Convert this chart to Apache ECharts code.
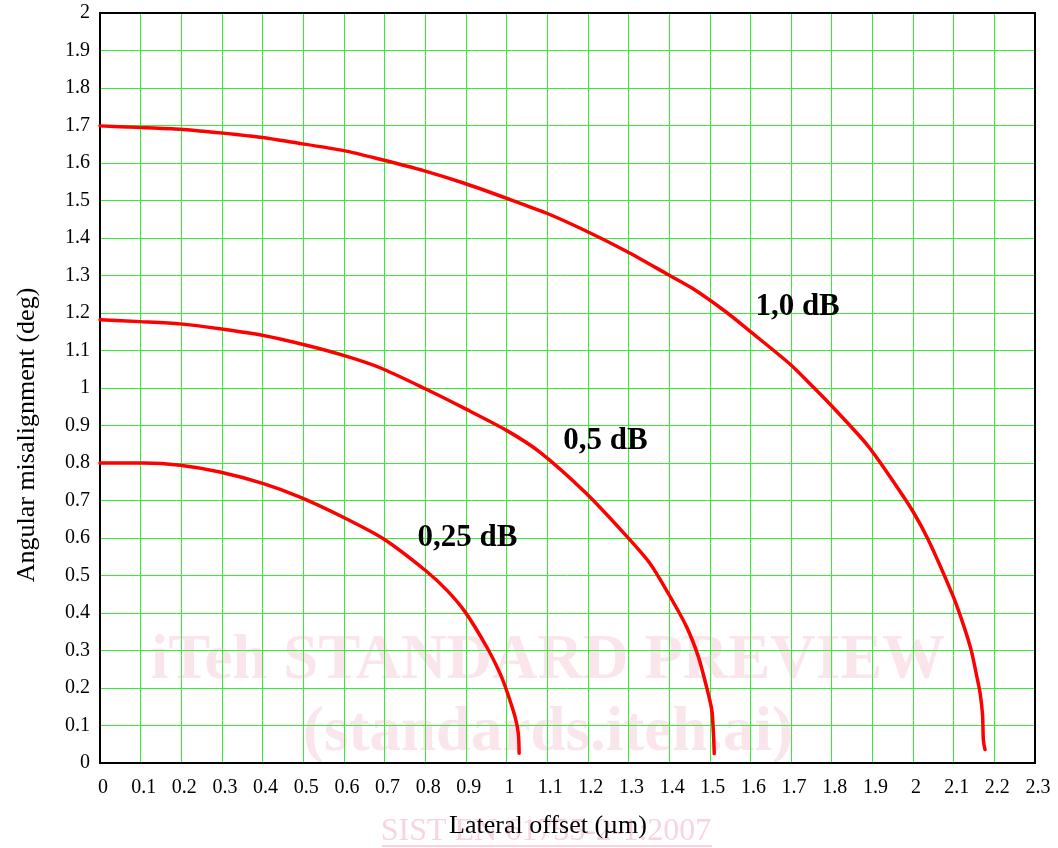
<!DOCTYPE html>
<html>
<head>
<meta charset="utf-8">
<script src="https://cdn.jsdelivr.net/npm/echarts@6/dist/echarts.min.js"></script>
<style>
html,body{margin:0;padding:0;background:#fff;}
#chart{width:1058px;height:848px;}
</style>
</head>
<body>
<div id="chart"></div>
<script>
// ---- data ----
var xTicks = { min: 0, max: 2.3, step: 0.1 };
var yTicks = { min: 0, max: 2, step: 0.1 };

var curveNames = ['0,25 dB', '0,5 dB', '1,0 dB'];

var offset025 = [0, 0.107, 0.197, 0.295, 0.402, 0.492, 0.597, 0.697, 0.80, 0.853, 0.898, 0.951, 0.984, 1.0, 1.021, 1.029, 1.031];
var angle025  = [0.80, 0.80, 0.794, 0.776, 0.745, 0.709, 0.656, 0.598, 0.514, 0.461, 0.403, 0.310, 0.239, 0.194, 0.123, 0.079, 0.026];

var offset05 = [0, 0.098, 0.197, 0.295, 0.402, 0.500, 0.599, 0.689, 0.80, 0.898, 1.0, 1.082, 1.197, 1.297, 1.353, 1.398, 1.443, 1.472, 1.492, 1.505, 1.509, 1.511];
var angle05  = [1.182, 1.177, 1.171, 1.158, 1.140, 1.116, 1.087, 1.054, 0.998, 0.945, 0.887, 0.829, 0.718, 0.603, 0.532, 0.452, 0.363, 0.283, 0.203, 0.141, 0.079, 0.025];

var offset10 = [0, 0.09, 0.197, 0.26, 0.31, 0.36, 0.40, 0.47, 0.60, 0.689, 0.798, 0.896, 1.0, 1.099, 1.197, 1.296, 1.398, 1.46, 1.541, 1.597, 1.697, 1.755, 1.80, 1.87, 1.896, 1.943, 1.998, 2.038, 2.097, 2.12, 2.143, 2.157, 2.165, 2.171, 2.173, 2.177];
var angle10  = [1.699, 1.695, 1.690, 1.684, 1.679, 1.673, 1.668, 1.656, 1.633, 1.610, 1.579, 1.546, 1.506, 1.466, 1.418, 1.364, 1.302, 1.264, 1.202, 1.153, 1.064, 1.002, 0.952, 0.870, 0.836, 0.764, 0.674, 0.594, 0.449, 0.381, 0.301, 0.230, 0.186, 0.128, 0.061, 0.036];

// label anchor positions in data units
var labelOffset = [0.904, 1.2435, 1.716];
var labelAngle  = [0.6005, 0.8575, 1.216];

var xName = 'Lateral offset (\u00b5m)';
var yName = 'Angular misalignment (deg)';
var watermark1 = 'iTeh STANDARD PREVIEW';
var watermark2 = '(standards.iteh.ai)';
var watermark3 = 'SIST EN 61755-2-1:2007';

// ---- build ----
function zip(xs, ys) { return xs.map(function (x, i) { return [x, ys[i]]; }); }
var curves = [zip(offset025, angle025), zip(offset05, angle05), zip(offset10, angle10)];
var serif = "'Liberation Serif', 'Times New Roman', serif";
function fmt(v) { return String(Number(v.toFixed(1))); }

var series = curves.map(function (d, i) {
  return {
    name: curveNames[i], type: 'line', data: d, showSymbol: false, symbol: 'none',
    smooth: 0.25, z: 5,
    lineStyle: { color: '#ff0000', width: 3.5, cap: 'round', join: 'round' }
  };
});
series.push({
  type: 'scatter', symbolSize: 0, z: 6, silent: true,
  itemStyle: { opacity: 1, color: 'transparent' },
  data: curveNames.map(function (n, i) { return { value: [labelOffset[i], labelAngle[i]], name: n }; }),
  label: {
    show: true, position: 'inside', formatter: '{b}', opacity: 1,
    fontFamily: serif, fontWeight: 'bold', fontSize: 31, color: '#000000'
  },
  emphasis: { disabled: true }
});

var chart = echarts.init(document.getElementById('chart'), null, { renderer: 'canvas' });
chart.setOption({
  backgroundColor: '#ffffff',
  animation: false,
  grid: { left: 100, right: 23, top: 13, bottom: 85, show: true, borderColor: '#000', borderWidth: 2, backgroundColor: 'transparent', z: 3 },
  xAxis: {
    type: 'value', min: xTicks.min, max: xTicks.max, interval: xTicks.step,
    name: xName, nameLocation: 'middle', nameGap: 50,
    nameTextStyle: { fontFamily: serif, fontSize: 26, color: '#000', padding: [0, 39, 0, 0] },
    axisLine: { show: true, lineStyle: { color: '#000', width: 2 } },
    axisTick: { show: false },
    axisLabel: { fontFamily: serif, fontSize: 20, color: '#000', margin: 15, formatter: fmt, padding: [0, 0, 0, 6] },
    splitLine: { show: true, lineStyle: { color: '#33ee33', width: 1 } }
  },
  yAxis: {
    type: 'value', min: yTicks.min, max: yTicks.max, interval: yTicks.step,
    name: yName, nameLocation: 'middle', nameGap: 60, nameRotate: 90,
    nameTextStyle: { fontFamily: serif, fontSize: 26, color: '#000', padding: [0, 94, 0, 0] },
    axisLine: { show: true, lineStyle: { color: '#000', width: 2 } },
    axisTick: { show: false },
    axisLabel: { fontFamily: serif, fontSize: 20, color: '#000', margin: 10, formatter: fmt },
    splitLine: { show: true, lineStyle: { color: '#33ee33', width: 1 } }
  },
  graphic: [
    { type: 'text', x: 548, y: 662, z: -1, silent: true,
      style: { text: watermark1, fill: 'rgba(240,170,190,0.3)', font: 'bold 63px ' + serif, textAlign: 'center', textVerticalAlign: 'middle' } },
    { type: 'text', x: 548, y: 734, z: -1, silent: true,
      style: { text: watermark2, fill: 'rgba(240,170,190,0.3)', font: 'bold 63px ' + serif, textAlign: 'center', textVerticalAlign: 'middle' } },
    { type: 'text', x: 546, y: 832, z: -1, silent: true,
      style: { text: watermark3, fill: 'rgba(240,160,185,0.45)', font: '32px ' + serif, textAlign: 'center', textVerticalAlign: 'middle' } },
    { type: 'line', z: -1, silent: true, shape: { x1: 382, y1: 846, x2: 712, y2: 846 },
      style: { stroke: 'rgba(240,160,185,0.45)', lineWidth: 2 } }
  ],
  series: series
});
</script>
</body>
</html>
